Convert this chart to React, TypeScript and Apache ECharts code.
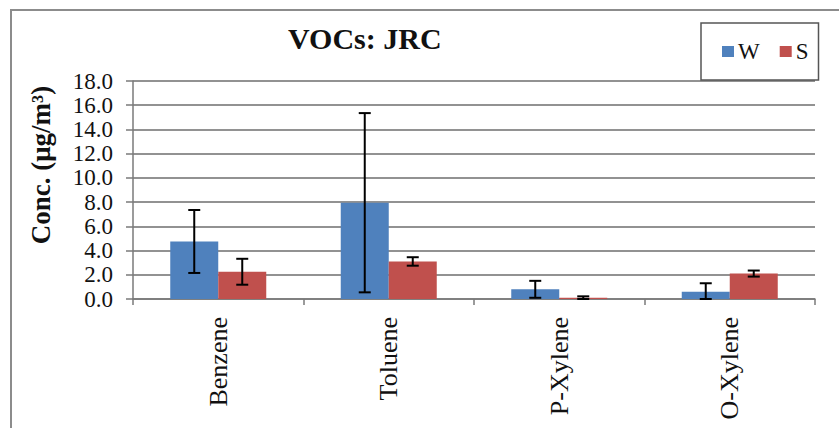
import React, { useEffect, useRef } from "react";
import * as echarts from "echarts";

const categories = ["Benzene", "Toluene", "P-Xylene", "O-Xylene"];
const seriesNames = ["W", "S"];
const wValues = [4.75, 7.95, 0.8, 0.6];
const wErrors = [2.6, 7.4, 0.7, 0.7];
const sValues = [2.25, 3.1, 0.1, 2.1];
const sErrors = [1.07, 0.35, 0.12, 0.25];
const yTicks = [0, 2, 4, 6, 8, 10, 12, 14, 16, 18];

const BLUE = "#4f81bd";
const RED = "#c0504d";
const FONT = "'Liberation Serif', 'Times New Roman', serif";
const BAR_W = 48;

function errData(vals: number[], errs: number[]) {
  return vals.map((v, i) => [i, Math.max(0, v - errs[i]), v + errs[i]]);
}

function errRender(offset: number) {
  return (params: any, api: any) => {
    const i = api.value(0);
    const lo = api.coord([i, api.value(1)]);
    const hi = api.coord([i, api.value(2)]);
    const x = lo[0] + offset;
    const cap = 6;
    const style = { stroke: "#000", lineWidth: 2 };
    return {
      type: "group",
      children: [
        { type: "line", shape: { x1: x, y1: hi[1], x2: x, y2: lo[1] }, style },
        { type: "line", shape: { x1: x - cap, y1: hi[1], x2: x + cap, y2: hi[1] }, style },
        { type: "line", shape: { x1: x - cap, y1: lo[1], x2: x + cap, y2: lo[1] }, style },
      ],
    };
  };
}

export default function App() {
  const ref = useRef<HTMLDivElement>(null);
  useEffect(() => {
    if (!ref.current) return;
    const chart = echarts.init(ref.current, null, { renderer: "svg" });
    chart.setOption({
      animation: false,
      backgroundColor: "#fff",
      textStyle: { fontFamily: FONT },
      title: {
        text: "VOCs: JRC",
        left: 283,
        top: 18,
        textStyle: { fontFamily: FONT, fontSize: 30, fontWeight: "bold", color: "#111" },
      },
      legend: {
        data: seriesNames,
        left: 701,
        top: 23,
        width: 131,
        height: 56,
        orient: "horizontal",
        padding: [17, 10, 17, 21],
        itemWidth: 12,
        itemHeight: 11,
        itemGap: 20,
        icon: "rect",
        borderColor: "#555",
        borderWidth: 1.5,
        textStyle: { fontFamily: FONT, fontSize: 23, color: "#111", padding: [0, 0, 0, -1] },
      },
      grid: { left: 133, right: 24, top: 81, bottom: 129, containLabel: false },
      xAxis: {
        type: "category",
        data: categories,
        axisLine: { lineStyle: { color: "#7a7a7a", width: 1.5 } },
        axisTick: { show: true, length: 6, alignWithLabel: false, lineStyle: { color: "#7a7a7a", width: 1.5 } },
        axisLabel: {
          rotate: 90,
          margin: 18,
          fontFamily: FONT,
          fontSize: 26,
          color: "#111",
          interval: 0,
        },
      },
      yAxis: {
        type: "value",
        min: yTicks[0],
        max: yTicks[yTicks.length - 1],
        interval: 2,
        axisLine: { show: true, lineStyle: { color: "#7a7a7a", width: 1.5 } },
        axisTick: { show: true, length: 7, lineStyle: { color: "#7a7a7a", width: 1.5 } },
        splitLine: { lineStyle: { color: "#6e6e6e", width: 1.5 } },
        axisLabel: {
          margin: 20,
          fontFamily: FONT,
          fontSize: 23,
          color: "#111",
          formatter: (v: number) => v.toFixed(1),
        },
      },
      graphic: [
        {
          type: "rect",
          shape: { x: 11, y: 10, width: 860, height: 440 },
          style: { fill: "none", stroke: "#8c8c8c", lineWidth: 2 },
          silent: true,
          z: 100,
        },
        {
          type: "text",
          x: 41,
          y: 165,
          rotation: Math.PI / 2,
          style: {
            text: "Conc. (μg/m³)",
            font: `bold 27px ${FONT}`,
            fill: "#111",
            align: "center",
            verticalAlign: "middle",
          },
        },
      ],
      series: [
        {
          name: seriesNames[0],
          type: "bar",
          data: wValues,
          barWidth: BAR_W,
          barGap: "0%",
          itemStyle: { color: BLUE },
        },
        {
          name: seriesNames[1],
          type: "bar",
          data: sValues,
          barWidth: BAR_W,
          barGap: "0%",
          itemStyle: { color: RED },
        },
        {
          type: "custom",
          renderItem: errRender(-BAR_W / 2),
          data: errData(wValues, wErrors),
          z: 10,
          encode: { x: 0, y: [1, 2] },
        },
        {
          type: "custom",
          renderItem: errRender(BAR_W / 2),
          data: errData(sValues, sErrors),
          z: 10,
          encode: { x: 0, y: [1, 2] },
        },
      ],
    });
    return () => chart.dispose();
  }, []);
  return <div ref={ref} style={{ width: 839, height: 428, position: "absolute", left: 0, top: 0 }} />;
}
